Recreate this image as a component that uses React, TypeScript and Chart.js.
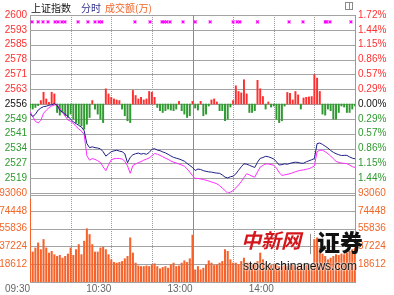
import React, { useEffect, useRef } from 'react';
import { Chart, registerables } from 'chart.js';

Chart.register(...registerables);

// ---- axis definitions ----
const PREV_CLOSE = 2556.6;
const PRICE_STEP = 7.34;
const priceTickLabels = ['2600', '2593', '2585', '2578', '2571', '2563', '2556', '2549', '2541', '2534', '2527', '2519'];
const pctTickLabels = ['1.72%', '1.44%', '1.15%', '0.86%', '0.57%', '0.29%', '0.00%', '0.29%', '0.57%', '0.86%', '1.15%', '1.44%'];
const VOL_MAX = 93060;
const VOL_STEP = 18612;
const volTickLabels = ['93060', '74448', '55836', '37224', '18612'];
const timeTickMinutes = [0, 60, 120, 180];
const timeTickLabels = ['09:30', '10:30', '13:00', '14:00'];
const dashedGridMinutes = [30, 60, 90, 150, 180, 210];
const solidGridMinutes = [120];

// ---- series (one value every 2 trading minutes, 09:30 -> 15:00) ----
const priceLine = [
  2551.9, 2550.4, 2551.5, 2553.6, 2554.6, 2555.3, 2555.5, 2556.0, 2556.2, 2556.8,
  2556.0, 2553.5, 2552.6, 2551.5, 2550.5, 2549.1, 2547.7, 2546.9, 2546.0, 2545.2,
  2543.4, 2537.0, 2535.0, 2535.4, 2535.0, 2534.8, 2534.4, 2533.0, 2530.8, 2531.9,
  2533.0, 2533.4, 2533.7, 2533.3, 2533.0, 2532.0, 2527.5, 2530.2, 2531.5, 2532.0,
  2532.3, 2531.8, 2532.1, 2531.7, 2532.6, 2534.2, 2534.5, 2533.8, 2533.5, 2532.9,
  2532.4, 2531.7, 2530.9, 2530.2, 2529.8, 2529.4, 2528.9, 2528.3, 2527.2, 2526.2,
  2525.2, 2523.7, 2524.4, 2524.2, 2523.6, 2523.3, 2523.0, 2522.9, 2522.6, 2522.4,
  2522.3, 2521.5, 2520.4, 2520.0, 2520.6, 2520.9, 2522.0, 2523.8, 2525.5, 2527.0,
  2526.8, 2526.3, 2525.7, 2525.2, 2527.8, 2529.7, 2530.1, 2530.7, 2530.5, 2530.0,
  2529.4, 2528.0, 2526.4, 2526.6, 2527.0, 2526.8, 2527.2, 2527.6, 2527.8, 2527.7,
  2527.3, 2527.3, 2528.0, 2528.5, 2529.0, 2529.6, 2537.0, 2537.3, 2536.6, 2535.7,
  2534.8, 2533.6, 2532.7, 2532.0, 2531.5, 2531.1, 2531.2, 2531.2, 2530.4, 2529.8,
  2529.5,
];

const secondLine = [
  2552.7, 2550.5, 2548.0, 2547.2, 2548.5, 2552.0, 2553.5, 2554.8, 2555.6, 2556.1,
  2556.2, 2554.5, 2552.4, 2550.6, 2548.7, 2548.0, 2547.0, 2545.5, 2544.3, 2543.2,
  2541.5, 2531.0, 2528.8, 2529.6, 2529.2, 2528.5, 2527.7, 2525.5, 2523.6, 2526.5,
  2529.0, 2529.5, 2529.7, 2529.6, 2529.4, 2528.3, 2526.0, 2522.3, 2526.2, 2526.9,
  2527.6, 2528.1, 2528.8, 2529.3, 2529.9, 2531.0, 2532.1, 2531.8, 2531.2, 2530.5,
  2529.8, 2529.2, 2528.4, 2527.8, 2527.4, 2526.9, 2526.4, 2525.8, 2524.5, 2522.9,
  2521.2, 2519.6, 2519.8, 2519.5, 2519.2, 2518.9, 2518.5, 2518.0, 2517.6, 2517.1,
  2516.2, 2515.0, 2513.8, 2512.5, 2513.0, 2513.8, 2515.1, 2516.5, 2518.2, 2520.2,
  2522.1, 2521.5, 2520.9, 2520.4, 2523.0, 2525.4, 2526.2, 2527.0, 2526.9, 2526.6,
  2526.3, 2524.9, 2522.6, 2521.3, 2521.5, 2521.8, 2522.1, 2522.6, 2523.1, 2523.5,
  2523.8, 2524.0, 2524.3, 2524.6, 2525.2, 2526.0, 2533.0, 2533.7, 2533.7, 2533.0,
  2532.0, 2530.9, 2529.5, 2528.2, 2527.7, 2527.4, 2527.2, 2527.1, 2526.4, 2525.6,
  2525.2,
];

// red (up) / green (down) strength bars, in index points around the previous close
const strength = [
  -2, -2.5, -1.7, -0.8, 1.7, 5.8, 2.5, 0.8, 5.8, 5,
  -4.2, -5.5, -4.2, -5.8, -6.7, -5, -7.5, -9.2, -10, -10.8,
  -12.5, -10, -6.7, 1.7, -2.5, -5, -7.5, -9.2, 7.5, 5,
  3.3, 2.5, 2, 1.7, -2.5, -5.8, -8.3, -9.2, 6.7, 4.2,
  2.5, 3.3, 2, 2.5, 6.2, 5.8, 3.3, -1.7, -3.3, -4.2,
  -3.3, -2.5, -3, -3.3, -2.5, 1.3, -3.3, -5, -6.7, -5.8,
  1.3, -2, -3, 1.3, -5.8, -5, -1, 2, 2.5, 1,
  -3.3, -3.3, -8.3, -7.5, -1.5, 1.7, 9, 6.2, 5.5, 12,
  5, -4.2, -4.2, -3.3, 11.7, 7.5, 3.7, -2.5, 1, -1.5,
  -1, -7.5, -9.2, -8.3, -1, 5.7, 5.3, 2, 6.2, 4.5,
  -2.5, 3, 3.3, 3.5, 3.7, 14.5, 12.8, 6.2, -5, -5.5,
  -2.5, -3.3, -7.5, -7.5, -4.2, -1, -1.5, -4.2, -4.2, -2.5,
  -1,
];

// turnover (万)
const volume = [
  86800, 31400, 35600, 40900, 33900, 44450, 35600, 30300, 32100, 28600,
  26800, 27900, 25000, 26800, 29300, 35600, 27900, 33900, 39200, 28600,
  42700, 55700, 49700, 39200, 31400, 31400, 35600, 36300, 33900, 28600,
  23300, 20500, 19800, 20500, 21500, 24300, 26800, 46200, 30300, 19800,
  16900, 16200, 16200, 16900, 16200, 18000, 19100, 16200, 13800, 15200,
  16200, 14500, 18000, 19800, 16200, 16900, 19800, 22200, 20500, 24300,
  49000, 12700, 16200, 12700, 14500, 18000, 22200, 19800, 17300, 18000,
  19800, 21500, 33900, 32100, 23300, 19800, 19800, 18000, 21500, 25000,
  19800, 19800, 18000, 19800, 21500, 30300, 23300, 19800, 18000, 17300,
  18700, 18000, 16200, 16200, 18000, 16200, 17300, 18000, 16200, 17300,
  16200, 18000, 17300, 18700, 18000, 44450, 46200, 35600, 29300, 26800,
  23300, 25000, 26800, 28600, 27900, 29300, 28600, 30300, 32100, 33900,
  35600,
];

// magenta markers in the top row (trading minute)
const markerMinutes = [
  1.5, 6, 9.6, 13.3, 18.5, 20.7, 23.6, 25.8, 35.5, 42.8, 48, 51, 53, 77.5, 88.6,
  97.5, 99, 101, 103.4, 113, 122, 133, 150, 153, 155, 168, 191.3, 201.6, 218, 219,
  221.5, 237,
];
const MARKER_LEVEL = 2597.2;

const minutes = priceLine.map((_, i) => i * 2);

const FONT = '"Liberation Sans", Arial, sans-serif';
const RED = '#ff2f2f';
const GREEN = '#2f9a2f';
const ORANGE = '#f2662a';
const GRID = '#a3a3a3';

const priceTicks = [-6, -5, -4, -3, -2, -1, 0, 1, 2, 3, 4, 5, 6].map((k) => PREV_CLOSE + k * PRICE_STEP);
const volTicks = [0, 1, 2, 3, 4, 5].map((k) => k * VOL_STEP);

const gridPlugin = {
  id: 'panelGrid',
  beforeDatasetsDraw(chart: any) {
    const { ctx, chartArea, scales } = chart;
    const xs = scales.x;
    ctx.save();
    ctx.lineWidth = 1;
    // horizontal lines
    ctx.strokeStyle = GRID;
    const hline = (py: number) => {
      const y = Math.round(py) + 0.5;
      ctx.beginPath();
      ctx.moveTo(chartArea.left, y);
      ctx.lineTo(chartArea.right, y);
      ctx.stroke();
    };
    priceTicks.forEach((v) => hline(scales.yPrice.getPixelForValue(v)));
    volTicks.forEach((v) => hline(scales.yVol.getPixelForValue(v)));
    hline(scales.yVol.getPixelForValue(VOL_MAX) + 2);
    // vertical lines
    ctx.strokeStyle = '#9a9a9a';
    ctx.setLineDash([1, 1]);
    dashedGridMinutes.forEach((m) => {
      const px = Math.round(xs.getPixelForValue(m)) + 0.5;
      ctx.beginPath();
      ctx.moveTo(px, chartArea.top);
      ctx.lineTo(px, chartArea.bottom);
      ctx.stroke();
    });
    ctx.setLineDash([]);
    ctx.strokeStyle = '#8a8a8a';
    solidGridMinutes.forEach((m) => {
      const px = Math.round(xs.getPixelForValue(m)) + 0.5;
      ctx.beginPath();
      ctx.moveTo(px, chartArea.top);
      ctx.lineTo(px, chartArea.bottom);
      ctx.stroke();
    });
    ctx.restore();
  },
};

const priceColor = (j: number) => {
  const k = j - 6;
  return k > 0 ? RED : k === 0 ? '#111' : GREEN;
};

export default function App() {
  const ref = useRef<HTMLCanvasElement | null>(null);

  useEffect(() => {
    if (!ref.current) return;
    const tickFont = { family: FONT, size: 10 };
    const yCommon = (width: number) => ({
      afterFit: (s: any) => {
        s.width = width;
      },
      grid: { display: false, drawTicks: false },
      border: { display: true, color: '#999' },
    });
    const chart = new Chart(ref.current, {
      type: 'bar',
      data: {
        datasets: [
          {
            type: 'scatter',
            yAxisID: 'yPrice',
            xAxisID: 'x',
            data: markerMinutes.map((m) => ({ x: m, y: MARKER_LEVEL })),
            pointStyle: 'crossRot',
            pointRadius: 2,
            borderColor: '#ff00ff',
            backgroundColor: '#ff00ff',
            borderWidth: 1.2,
          } as any,
          {
            type: 'line',
            yAxisID: 'yPrice',
            xAxisID: 'x',
            data: priceLine.map((v, i) => ({ x: minutes[i], y: v })),
            borderColor: '#1e1e86',
            borderWidth: 1,
            pointRadius: 0,
            tension: 0,
            fill: false,
          } as any,
          {
            type: 'line',
            yAxisID: 'yPrice',
            xAxisID: 'x',
            data: secondLine.map((v, i) => ({ x: minutes[i], y: v })),
            borderColor: '#ff2cff',
            borderWidth: 1,
            pointRadius: 0,
            tension: 0,
            fill: false,
          } as any,
          {
            type: 'bar',
            yAxisID: 'yPrice',
            xAxisID: 'x',
            data: strength.map((v, i) => ({ x: minutes[i], y: [PREV_CLOSE, PREV_CLOSE + v] })),
            backgroundColor: (c: any) => (strength[c.dataIndex] >= 0 ? RED : GREEN),
            barThickness: 1.3,
            grouped: false,
            borderWidth: 0,
          } as any,
          {
            type: 'bar',
            yAxisID: 'yVol',
            xAxisID: 'x',
            data: volume.map((v, i) => ({ x: minutes[i], y: v })),
            backgroundColor: '#f5622a',
            barThickness: 1.4,
            grouped: false,
            borderWidth: 0,
          } as any,
        ],
      },
      options: {
        animation: false,
        responsive: false,
        maintainAspectRatio: false,
        layout: { padding: { top: 15, left: 0, right: 0, bottom: 0 } },
        plugins: { legend: { display: false }, tooltip: { enabled: false } },
        scales: {
          x: {
            type: 'linear',
            axis: 'x',
            position: 'bottom',
            min: 0,
            max: 240,
            offset: false,
            afterBuildTicks: (s: any) => {
              s.ticks = timeTickMinutes.map((v) => ({ value: v }));
            },
            afterFit: (s: any) => {
              s.height = 13;
            },
            ticks: {
              align: 'end',
              padding: 1,
              color: '#666',
              font: tickFont,
              maxRotation: 0,
              autoSkip: false,
              callback: (_v: any, i: number) => timeTickLabels[i] ?? '',
            },
            grid: { display: false, drawTicks: false, offset: false },
            border: { display: true, color: '#999' },
          } as any,
          yVol: {
            type: 'linear',
            axis: 'y',
            position: 'left',
            stack: 'L',
            stackWeight: 1,
            min: 0,
            max: VOL_MAX,
            afterBuildTicks: (s: any) => {
              s.ticks = volTicks.map((v) => ({ value: v }));
            },
            ...yCommon(30),
            ticks: {
              padding: 3,
              autoSkip: false,
              color: ORANGE,
              font: tickFont,
              callback: (_v: any, j: number) => volTickLabels[5 - j] ?? '',
            },
          } as any,
          yPrice: {
            type: 'linear',
            axis: 'y',
            position: 'left',
            stack: 'L',
            stackWeight: 2,
            min: PREV_CLOSE - 6 * PRICE_STEP,
            max: PREV_CLOSE + 6 * PRICE_STEP,
            afterBuildTicks: (s: any) => {
              s.ticks = priceTicks.map((v) => ({ value: v }));
            },
            ...yCommon(30),
            ticks: {
              padding: 3,
              autoSkip: false,
              color: (c: any) => priceColor(c.index),
              font: tickFont,
              callback: (_v: any, j: number) => priceTickLabels[12 - j] ?? '',
            },
          } as any,
          yPct: {
            type: 'linear',
            axis: 'y',
            position: 'right',
            stack: 'R',
            stackWeight: 2,
            min: PREV_CLOSE - 6 * PRICE_STEP,
            max: PREV_CLOSE + 6 * PRICE_STEP,
            afterBuildTicks: (s: any) => {
              s.ticks = priceTicks.map((v) => ({ value: v }));
            },
            ...yCommon(39),
            ticks: {
              padding: 3,
              autoSkip: false,
              color: (c: any) => priceColor(c.index),
              font: tickFont,
              callback: (_v: any, j: number) => pctTickLabels[12 - j] ?? '',
            },
          } as any,
          yVolR: {
            type: 'linear',
            axis: 'y',
            position: 'right',
            stack: 'R',
            stackWeight: 1,
            min: 0,
            max: VOL_MAX,
            afterBuildTicks: (s: any) => {
              s.ticks = volTicks.map((v) => ({ value: v }));
            },
            ...yCommon(39),
            ticks: {
              padding: 3,
              autoSkip: false,
              color: ORANGE,
              font: tickFont,
              callback: (_v: any, j: number) => volTickLabels[5 - j] ?? '',
            },
          } as any,
        },
      } as any,
      plugins: [gridPlugin],
    });
    return () => chart.destroy();
  }, []);

  const cjk = '"Noto Sans CJK SC", "Noto Sans", sans-serif';

  return (
    <div style={{ position: 'absolute', left: 0, top: 0, width: 394, height: 295, background: '#fff', overflow: 'hidden' }}>
      <canvas ref={ref} width={394} height={295} style={{ position: 'absolute', left: 0, top: 0, width: 394, height: 295 }} />
      <div style={{ position: 'absolute', left: 31, top: 0, fontFamily: cjk, fontSize: 10, lineHeight: '15px', whiteSpace: 'nowrap' }}>
        <span style={{ color: '#111' }}>上证指数</span>
        <span style={{ color: '#33338f', marginLeft: 10 }}>分时</span>
        <span style={{ color: ORANGE, marginLeft: 4 }}>成交额(万)</span>
      </div>
      <div style={{ position: 'absolute', left: 345, top: 2, width: 6, height: 6, border: '1px solid #8a8a8a' }}>
        <div style={{ position: 'absolute', left: 3, top: 0, width: 1, height: 6, background: '#8a8a8a' }} />
      </div>
      <div style={{ position: 'absolute', left: 241, top: 229, fontFamily: cjk, fontSize: 20, lineHeight: '22px', fontWeight: 700, color: '#d4161c', fontStyle: 'italic', whiteSpace: 'nowrap' }}>中新网</div>
      <div style={{ position: 'absolute', left: 310, top: 234, width: 1, height: 20, background: '#8c8c8c' }} />
      <div style={{ position: 'absolute', left: 317, top: 229, fontFamily: cjk, fontSize: 23, lineHeight: '25px', fontWeight: 900, color: '#111', whiteSpace: 'nowrap' }}>证券</div>
      <div style={{ position: 'absolute', left: 243, top: 259, fontFamily: FONT, fontSize: 12, lineHeight: '14px', color: '#111', whiteSpace: 'nowrap', textShadow: '0 0 2px #fff, 0 0 2px #fff' }}>stock.chinanews.com</div>
    </div>
  );
}
